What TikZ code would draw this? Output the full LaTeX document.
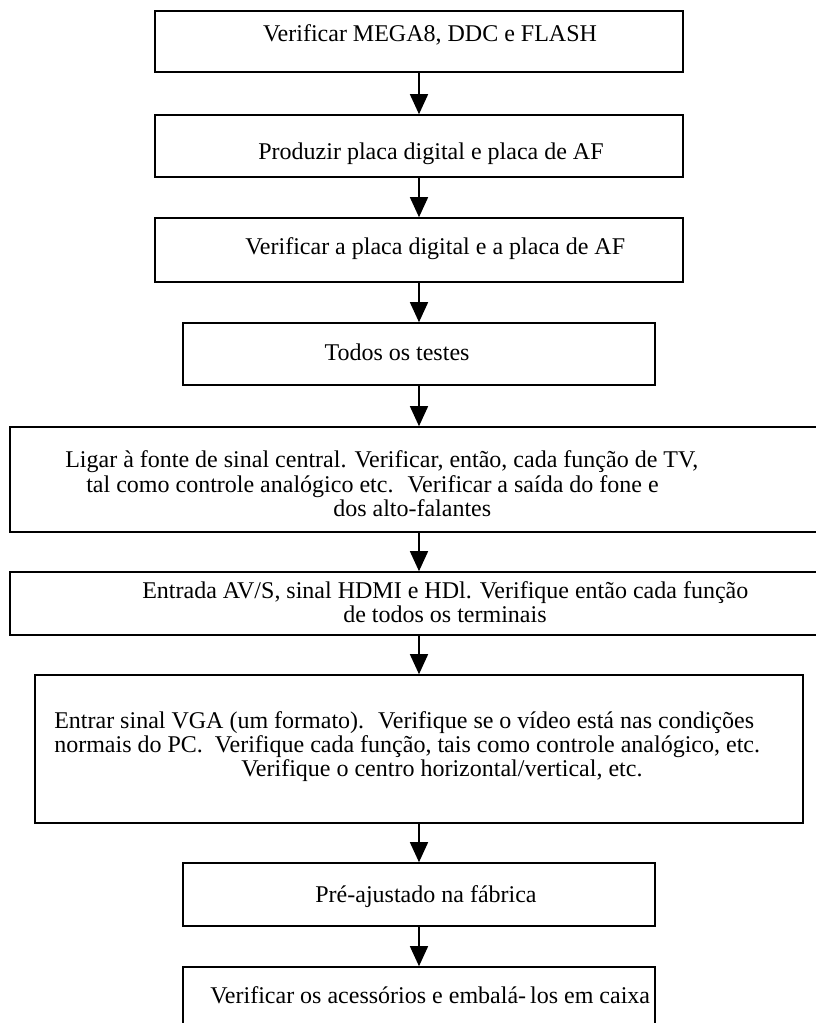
\documentclass[tikz,border=0pt]{standalone}
\usepackage{fontspec}
\setmainfont{Liberation Serif}
\usetikzlibrary{arrows.meta}
\begin{document}
\begin{tikzpicture}[x=0.75pt,y=-0.75pt,
  stepbox/.style={draw=black,line width=1.2pt,rectangle,inner sep=0pt,fill=white},
  txt/.style={inner sep=0pt,font=\fontsize{18}{22}\selectfont},
  flow/.style={draw=black,line width=1.1pt,-{Triangle[width=13.5pt,length=15pt]}}]
  % canvas
  \fill[white] (0,0) rectangle (815,1023);
  \useasboundingbox (0,0) rectangle (815,1023);

  % process boxes
  \node[stepbox,minimum width=396pt,minimum height=45.75pt] (b1) at (419,41.5) {};
  \node[stepbox,minimum width=396pt,minimum height=46.5pt]  (b2) at (419,146) {};
  \node[stepbox,minimum width=396pt,minimum height=48pt]    (b3) at (419,250) {};
  \node[stepbox,minimum width=354pt,minimum height=46.5pt]  (b4) at (419,354) {};
  \node[stepbox,minimum width=613.5pt,minimum height=78.75pt] (b5) at (419,479.5) {};
  \node[stepbox,minimum width=613.5pt,minimum height=47.25pt] (b6) at (419,603.5) {};
  \node[stepbox,minimum width=576pt,minimum height=111pt]   (b7) at (419,749) {};
  \node[stepbox,minimum width=354pt,minimum height=47.25pt] (b8) at (419,894.5) {};
  \node[stepbox,minimum width=354pt,minimum height=47.25pt] (b9) at (419,998.5) {};

  % labels
  \node[txt,anchor=base] (t1) at (430,42) {Verificar MEGA8, DDC e FLASH};
  \node[txt,anchor=base] (t2) at (431,160) {Produzir placa digital e placa de AF};
  \node[txt,anchor=base west] (t3) at (245,255) {Verificar a placa digital e a placa de AF};
  \node[txt,anchor=base] (t4) at (397,360) {Todos os testes};
  \node[txt,anchor=base west] (t5a) at (65,467) {Ligar à fonte de sinal central. Verificar, então, cada função de TV,};
  \node[txt,anchor=base west] (t5b) at (86,492) {tal como controle analógico etc.~ Verificar a saída do fone e};
  \node[txt,anchor=base west] (t5c) at (333,516) {dos alto-falantes};
  \node[txt,anchor=base west] (t6a) at (142,598) {Entrada AV/S, sinal HDMI e HDl. Verifique então cada função};
  \node[txt,anchor=base west] (t6b) at (343,622) {de todos os terminais};
  \node[txt,anchor=base west] (t7a) at (54,728) {Entrar sinal VGA (um formato).~ Verifique se o vídeo está nas condições};
  \node[txt,anchor=base west] (t7b) at (54,752) {normais do PC.~ Verifique cada função, tais como controle analógico, etc.};
  \node[txt,anchor=base west] (t7c) at (241,776) {Verifique o centro horizontal/vertical, etc.};
  \node[txt,anchor=base] (t8) at (426,902) {Pré-ajustado na fábrica};
  \node[txt,anchor=base west] (t9) at (210,1003) {Verificar os acessórios e embalá-\,los em caixa};

  % connectors
  \draw[flow] (b1.south) -- (b2.north);
  \draw[flow] (b2.south) -- (b3.north);
  \draw[flow] (b3.south) -- (b4.north);
  \draw[flow] (b4.south) -- (b5.north);
  \draw[flow] (b5.south) -- (b6.north);
  \draw[flow] (b6.south) -- (b7.north);
  \draw[flow] (b7.south) -- (b8.north);
  \draw[flow] (b8.south) -- (b9.north);
\end{tikzpicture}
\end{document}
